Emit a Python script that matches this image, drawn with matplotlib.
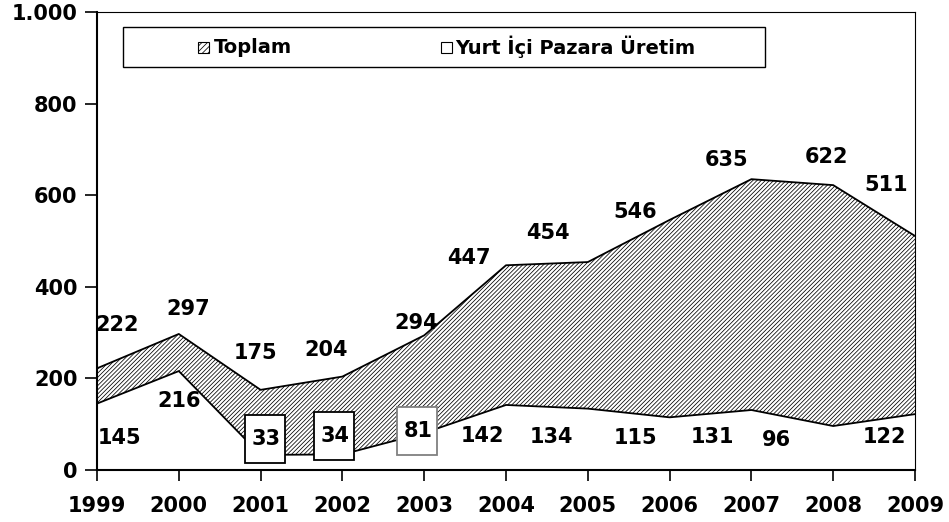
import matplotlib.pyplot as plt
import matplotlib.patches as mpatch
from matplotlib.ticker import FuncFormatter

years = [1999, 2000, 2001, 2002, 2003, 2004, 2005, 2006, 2007, 2008, 2009]
toplam = [222, 297, 175, 204, 294, 447, 454, 546, 635, 622, 511]
yurt_ici = [145, 216, 33, 34, 81, 142, 134, 115, 131, 96, 122]
names = ['Toplam', 'Yurt İçi Pazara Üretim']

# label offsets in pixels (dx, dy) from each point
top_off = [(20, 43), (9, 25), (-5, 37), (-16, 27), (-8, 12), (-37, 7),
           (-40, 29), (-34, 8), (-25, 19), (-7, 28), (-29, 51)]
low_off = [(23, -34), (0, -30), (5, 16), (-7, 18), (-6, 2), (-24, -31),
           (-36, -28), (-34, -21), (-39, -27), (-57, -14), (-31, -23)]
boxed = {2001: 'black', 2002: 'black', 2003: 'gray'}

plt.rcParams['font.family'] = 'DejaVu Sans'
plt.rcParams['font.weight'] = 'bold'
plt.rcParams['hatch.linewidth'] = 0.55

fig = plt.figure(figsize=(9.49, 5.22), dpi=100)
ax = fig.add_axes([97/949, 52/522, 818/949, 458/522])

ax.fill_between(years, toplam, 0, facecolor='white', edgecolor='black',
                hatch='////////', linewidth=0)
ax.plot(years, toplam, color='black', lw=1.3)
ax.fill_between(years, yurt_ici, 0, facecolor='white', edgecolor='none', zorder=2)
ax.plot(years, yurt_ici, color='black', lw=1.3, zorder=3)

box_texts = []
for i, y in enumerate(years):
    dx, dy = top_off[i]
    ax.annotate(str(toplam[i]), (y, toplam[i]), xytext=(dx, dy),
                textcoords='offset pixels', ha='center', va='center',
                fontsize=15, fontweight='bold', zorder=5)
    dx, dy = low_off[i]
    t = ax.annotate(str(yurt_ici[i]), (y, yurt_ici[i]), xytext=(dx, dy),
                    textcoords='offset pixels', ha='center', va='center',
                    fontsize=15, fontweight='bold', zorder=6)
    if y in boxed:
        box_texts.append((t, boxed[y]))

ax.set_xlim(1999, 2009)
ax.set_ylim(0, 1000)
ax.set_xticks(years)
ax.set_yticks([0, 200, 400, 600, 800, 1000])
ax.yaxis.set_major_formatter(FuncFormatter(lambda v, p: f'{int(v):,}'.replace(',', '.')))
ax.tick_params(axis='both', direction='out', length=9, width=1.2,
               labelsize=15, pad=5)
ax.tick_params(axis='x', length=8, pad=11)
for lab in ax.get_xticklabels() + ax.get_yticklabels():
    lab.set_fontweight('bold')
for s in ['top', 'right']:
    ax.spines[s].set_linewidth(0.8)
for s in ['left', 'bottom']:
    ax.spines[s].set_linewidth(1.5)

# legend box drawn by hand
tr = ax.transAxes
ax.add_patch(mpatch.Rectangle((0.032, 0.880), 0.785, 0.087, transform=tr,
                              fc='white', ec='black', lw=1.0, zorder=6))
for hx, tx, lab, hatch in [(0.124, 0.143, names[0], '//////'),
                           (0.421, 0.438, names[1], None)]:
    ax.add_patch(mpatch.Rectangle((hx, 0.910), 0.0135, 0.025, transform=tr,
                                  fc='white', ec='black', lw=0.8,
                                  hatch=hatch, zorder=7))
    ax.text(tx, 0.923, lab, transform=tr, ha='left', va='center',
            fontsize=14, fontweight='bold', zorder=7)

# tall white boxes behind the small values (sized in pixels)
fig.canvas.draw()
inv = ax.transData.inverted()
for t, ec in box_texts:
    bb = t.get_window_extent()
    cx, cy = (bb.x0 + bb.x1) / 2, (bb.y0 + bb.y1) / 2
    x0, y0 = inv.transform((cx - 21, cy - 24))
    x1, y1 = inv.transform((cx + 19, cy + 24))
    ax.add_patch(mpatch.Rectangle((x0, y0), x1 - x0, y1 - y0,
                                  fc='white', ec=ec, lw=1.3, zorder=5))

fig.savefig('out.png', dpi=100)
plt.close(fig)
